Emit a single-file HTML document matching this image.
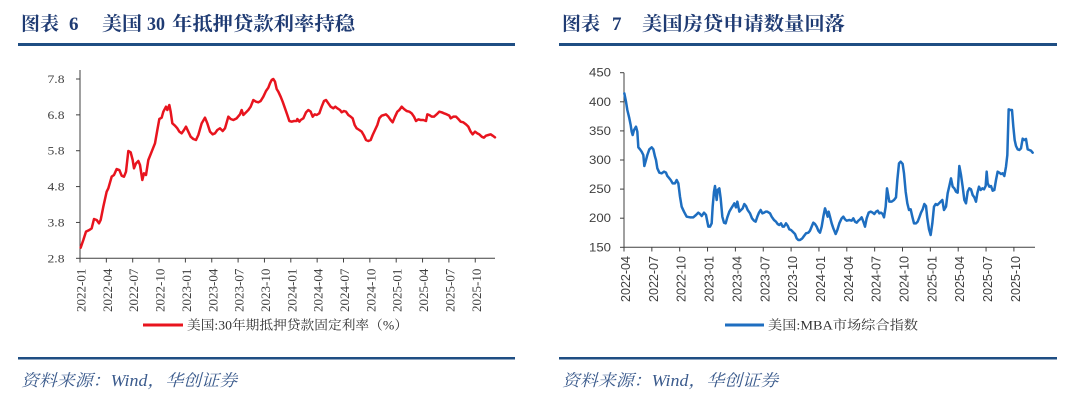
<!DOCTYPE html>
<html><head><meta charset="utf-8"><style>
html,body{margin:0;padding:0;background:#fff;}
svg{display:block;}
.t{font-family:"Liberation Serif","Noto Serif CJK SC",serif;font-weight:bold;fill:#1f3b73;font-size:19px;}
.src{font-family:"Liberation Serif","Noto Serif CJK SC",serif;font-style:italic;fill:#3a5a8c;font-size:16.5px;}
.ys{font-family:"Liberation Serif",serif;font-size:12px;fill:#404040;}
.xs{font-family:"Liberation Serif",serif;font-size:13px;fill:#404040;}
.ya{font-family:"Liberation Sans",sans-serif;font-size:12px;fill:#404040;}
.xa{font-family:"Liberation Sans",sans-serif;font-size:13px;fill:#404040;}
.lg{font-family:"Liberation Serif","Noto Serif CJK SC",serif;font-size:13px;fill:#333;}
</style></head><body>
<svg width="1080" height="404" viewBox="0 0 1080 404" xmlns="http://www.w3.org/2000/svg">
<!-- Titles -->
<text class="t" x="21" y="30" textLength="38" lengthAdjust="spacingAndGlyphs">图表</text>
<text class="t" x="69" y="30">6</text>
<text class="t" x="102" y="30" textLength="40" lengthAdjust="spacingAndGlyphs">美国</text>
<text class="t" x="147" y="30" textLength="18" lengthAdjust="spacingAndGlyphs">30</text>
<text class="t" x="172" y="30" textLength="183" lengthAdjust="spacingAndGlyphs">年抵押贷款利率持稳</text>

<text class="t" x="562" y="30" textLength="38" lengthAdjust="spacingAndGlyphs">图表</text>
<text class="t" x="612" y="30">7</text>
<text class="t" x="642" y="30" textLength="203" lengthAdjust="spacingAndGlyphs">美国房贷申请数量回落</text>

<!-- rules -->
<rect x="18" y="43" width="497" height="3" fill="#1f4e83"/>
<rect x="559" y="43" width="498" height="3" fill="#1f4e83"/>
<rect x="18" y="357" width="497" height="2.5" fill="#1f4e83"/>
<rect x="559" y="357" width="498" height="2.5" fill="#1f4e83"/>

<!-- sources -->
<text class="src" x="21" y="386" textLength="216" lengthAdjust="spacingAndGlyphs">资料来源：Wind，华创证券</text>
<text class="src" x="562" y="386" textLength="216" lengthAdjust="spacingAndGlyphs">资料来源：Wind，华创证券</text>

<!-- LEFT CHART axes -->
<g stroke="#404040" stroke-width="1" fill="none">
<line x1="80" y1="70" x2="80" y2="258.3"/>
<line x1="80" y1="258.3" x2="495" y2="258.3"/>
<line x1="76" y1="79" x2="80" y2="79"/>
<line x1="76" y1="114.86" x2="80" y2="114.86"/>
<line x1="76" y1="150.72" x2="80" y2="150.72"/>
<line x1="76" y1="186.58" x2="80" y2="186.58"/>
<line x1="76" y1="222.44" x2="80" y2="222.44"/>
<line x1="76" y1="258.3" x2="80" y2="258.3"/>
<line x1="80" y1="258.3" x2="80" y2="262.5"/>
<line x1="106.35" y1="258.3" x2="106.35" y2="262.5"/>
<line x1="132.7" y1="258.3" x2="132.7" y2="262.5"/>
<line x1="159.05" y1="258.3" x2="159.05" y2="262.5"/>
<line x1="185.4" y1="258.3" x2="185.4" y2="262.5"/>
<line x1="211.75" y1="258.3" x2="211.75" y2="262.5"/>
<line x1="238.1" y1="258.3" x2="238.1" y2="262.5"/>
<line x1="264.45" y1="258.3" x2="264.45" y2="262.5"/>
<line x1="290.8" y1="258.3" x2="290.8" y2="262.5"/>
<line x1="317.15" y1="258.3" x2="317.15" y2="262.5"/>
<line x1="343.5" y1="258.3" x2="343.5" y2="262.5"/>
<line x1="369.85" y1="258.3" x2="369.85" y2="262.5"/>
<line x1="396.2" y1="258.3" x2="396.2" y2="262.5"/>
<line x1="422.55" y1="258.3" x2="422.55" y2="262.5"/>
<line x1="448.9" y1="258.3" x2="448.9" y2="262.5"/>
<line x1="475.25" y1="258.3" x2="475.25" y2="262.5"/>
</g>
<g class="ys" text-anchor="end" dominant-baseline="central">
<text x="64.5" y="79" textLength="17" lengthAdjust="spacingAndGlyphs">7.8</text>
<text x="64.5" y="114.86" textLength="17" lengthAdjust="spacingAndGlyphs">6.8</text>
<text x="64.5" y="150.72" textLength="17" lengthAdjust="spacingAndGlyphs">5.8</text>
<text x="64.5" y="186.58" textLength="17" lengthAdjust="spacingAndGlyphs">4.8</text>
<text x="64.5" y="222.44" textLength="17" lengthAdjust="spacingAndGlyphs">3.8</text>
<text x="64.5" y="258.3" textLength="17" lengthAdjust="spacingAndGlyphs">2.8</text>
</g>
<g class="xs" dominant-baseline="central">
<text transform="translate(81,312) rotate(-90)">2022-01</text>
<text transform="translate(107.35,312) rotate(-90)">2022-04</text>
<text transform="translate(133.7,312) rotate(-90)">2022-07</text>
<text transform="translate(160.05,312) rotate(-90)">2022-10</text>
<text transform="translate(186.4,312) rotate(-90)">2023-01</text>
<text transform="translate(212.75,312) rotate(-90)">2023-04</text>
<text transform="translate(239.1,312) rotate(-90)">2023-07</text>
<text transform="translate(265.45,312) rotate(-90)">2023-10</text>
<text transform="translate(291.8,312) rotate(-90)">2024-01</text>
<text transform="translate(318.15,312) rotate(-90)">2024-04</text>
<text transform="translate(344.5,312) rotate(-90)">2024-07</text>
<text transform="translate(370.85,312) rotate(-90)">2024-10</text>
<text transform="translate(397.2,312) rotate(-90)">2025-01</text>
<text transform="translate(423.55,312) rotate(-90)">2025-04</text>
<text transform="translate(449.9,312) rotate(-90)">2025-07</text>
<text transform="translate(476.25,312) rotate(-90)">2025-10</text>
</g>
<!-- red series -->
<g transform="translate(60,65) scale(0.33333)">
<polyline fill="none" stroke="#e8141e" stroke-width="7.5" stroke-linejoin="round" stroke-linecap="round" points="62,548 70,525 78,500 88,495 95,490 102,462 110,465 117,475 122,465 130,425 140,380 145,370 155,335 162,330 170,312 178,315 185,332 192,335 198,320 205,258 212,262 218,285 222,310 228,295 235,288 240,300 247,345 252,325 258,330 265,285 275,260 285,235 292,195 298,162 305,158 310,140 318,125 322,135 328,120 332,140 337,175 345,182 352,190 358,200 365,205 372,195 378,185 385,200 392,215 400,222 408,225 415,210 425,175 435,158 442,175 450,200 458,208 465,205 472,195 480,190 488,198 495,190 505,155 512,162 520,165 530,160 540,148 545,135 550,150 558,142 565,135 572,125 580,105 588,110 595,112 602,108 610,95 618,78 625,68 630,55 635,45 640,42 645,50 650,72 655,80 662,95 668,110 675,130 682,150 688,168 695,170 702,168 710,168 712,162 718,170 722,165 730,160 738,142 745,135 752,140 758,155 764,148 770,150 778,145 785,125 792,108 798,105 805,115 812,125 820,130 826,125 832,130 840,135 845,142 852,138 858,140 865,150 872,155 878,160 884,180 890,190 898,195 905,200 912,212 918,225 925,228 932,225 938,210 945,195 952,180 958,160 965,152 972,150 978,148 985,155 992,165 998,172 1005,155 1012,140 1018,135 1025,125 1032,132 1040,138 1048,140 1055,145 1062,155 1068,168 1075,163 1082,165 1090,165 1098,168 1102,148 1108,150 1115,155 1122,155 1130,148 1138,140 1145,142 1152,145 1160,148 1168,152 1172,160 1180,155 1188,155 1195,162 1202,170 1210,172 1218,178 1225,185 1232,200 1238,208 1245,200 1252,205 1258,208 1265,215 1272,218 1278,212 1285,210 1292,208 1298,212 1305,217"/>
</g>
<!-- left legend -->
<line x1="143" y1="325" x2="183" y2="325" stroke="#e8141e" stroke-width="3"/>
<text class="lg" x="187" y="329.5" textLength="221" lengthAdjust="spacingAndGlyphs">美国:30年期抵押贷款固定利率（%）</text>

<!-- RIGHT CHART axes -->
<g stroke="#404040" stroke-width="1" fill="none">
<line x1="624" y1="72.7" x2="624" y2="247.3"/>
<line x1="624" y1="247.3" x2="1035" y2="247.3"/>
<line x1="620" y1="72.7" x2="624" y2="72.7"/>
<line x1="620" y1="101.8" x2="624" y2="101.8"/>
<line x1="620" y1="130.9" x2="624" y2="130.9"/>
<line x1="620" y1="160" x2="624" y2="160"/>
<line x1="620" y1="189.1" x2="624" y2="189.1"/>
<line x1="620" y1="218.2" x2="624" y2="218.2"/>
<line x1="620" y1="247.3" x2="624" y2="247.3"/>
<line x1="624" y1="247.3" x2="624" y2="251.5"/>
<line x1="651.85" y1="247.3" x2="651.85" y2="251.5"/>
<line x1="679.7" y1="247.3" x2="679.7" y2="251.5"/>
<line x1="707.55" y1="247.3" x2="707.55" y2="251.5"/>
<line x1="735.4" y1="247.3" x2="735.4" y2="251.5"/>
<line x1="763.25" y1="247.3" x2="763.25" y2="251.5"/>
<line x1="791.1" y1="247.3" x2="791.1" y2="251.5"/>
<line x1="818.95" y1="247.3" x2="818.95" y2="251.5"/>
<line x1="846.8" y1="247.3" x2="846.8" y2="251.5"/>
<line x1="874.65" y1="247.3" x2="874.65" y2="251.5"/>
<line x1="902.5" y1="247.3" x2="902.5" y2="251.5"/>
<line x1="930.35" y1="247.3" x2="930.35" y2="251.5"/>
<line x1="958.2" y1="247.3" x2="958.2" y2="251.5"/>
<line x1="986.05" y1="247.3" x2="986.05" y2="251.5"/>
<line x1="1013.9" y1="247.3" x2="1013.9" y2="251.5"/>
</g>
<g class="ya" text-anchor="end" dominant-baseline="central">
<text x="611" y="72.7" textLength="22" lengthAdjust="spacingAndGlyphs">450</text>
<text x="611" y="101.8" textLength="22" lengthAdjust="spacingAndGlyphs">400</text>
<text x="611" y="130.9" textLength="22" lengthAdjust="spacingAndGlyphs">350</text>
<text x="611" y="160" textLength="22" lengthAdjust="spacingAndGlyphs">300</text>
<text x="611" y="189.1" textLength="22" lengthAdjust="spacingAndGlyphs">250</text>
<text x="611" y="218.2" textLength="22" lengthAdjust="spacingAndGlyphs">200</text>
<text x="611" y="247.3" textLength="22" lengthAdjust="spacingAndGlyphs">150</text>
</g>
<g class="xa" dominant-baseline="central">
<text transform="translate(625.5,302) rotate(-90)" textLength="46" lengthAdjust="spacingAndGlyphs">2022-04</text>
<text transform="translate(653.35,302) rotate(-90)" textLength="46" lengthAdjust="spacingAndGlyphs">2022-07</text>
<text transform="translate(681.2,302) rotate(-90)" textLength="46" lengthAdjust="spacingAndGlyphs">2022-10</text>
<text transform="translate(709.05,302) rotate(-90)" textLength="46" lengthAdjust="spacingAndGlyphs">2023-01</text>
<text transform="translate(736.9,302) rotate(-90)" textLength="46" lengthAdjust="spacingAndGlyphs">2023-04</text>
<text transform="translate(764.75,302) rotate(-90)" textLength="46" lengthAdjust="spacingAndGlyphs">2023-07</text>
<text transform="translate(792.6,302) rotate(-90)" textLength="46" lengthAdjust="spacingAndGlyphs">2023-10</text>
<text transform="translate(820.45,302) rotate(-90)" textLength="46" lengthAdjust="spacingAndGlyphs">2024-01</text>
<text transform="translate(848.3,302) rotate(-90)" textLength="46" lengthAdjust="spacingAndGlyphs">2024-04</text>
<text transform="translate(876.15,302) rotate(-90)" textLength="46" lengthAdjust="spacingAndGlyphs">2024-07</text>
<text transform="translate(904,302) rotate(-90)" textLength="46" lengthAdjust="spacingAndGlyphs">2024-10</text>
<text transform="translate(931.85,302) rotate(-90)" textLength="46" lengthAdjust="spacingAndGlyphs">2025-01</text>
<text transform="translate(959.7,302) rotate(-90)" textLength="46" lengthAdjust="spacingAndGlyphs">2025-04</text>
<text transform="translate(987.55,302) rotate(-90)" textLength="46" lengthAdjust="spacingAndGlyphs">2025-07</text>
<text transform="translate(1015.4,302) rotate(-90)" textLength="46" lengthAdjust="spacingAndGlyphs">2025-10</text>
</g>
<!-- blue series -->
<g transform="translate(580,60) scale(0.33333)">
<polyline fill="none" stroke="#1e6ec0" stroke-width="7.5" stroke-linejoin="round" stroke-linecap="round" points="133,100 138,125 142,150 148,175 152,195 155,215 158,225 162,210 165,205 168,200 172,215 175,262 180,268 185,275 190,285 193,318 198,300 202,285 208,268 215,262 220,268 225,290 228,300 232,325 238,338 245,340 252,335 258,338 262,348 268,355 272,360 278,370 285,370 290,360 295,370 300,410 305,440 312,455 320,470 330,472 340,472 348,465 355,458 360,462 365,468 372,458 378,465 385,500 390,500 395,490 398,440 402,395 405,378 410,420 413,390 418,385 422,415 427,470 432,488 437,490 442,472 448,455 455,443 460,435 463,430 468,442 472,425 478,455 483,450 488,445 493,432 498,438 503,450 510,460 516,475 522,482 527,485 532,470 537,458 542,450 547,460 552,458 557,455 562,455 570,460 575,470 582,480 588,485 593,492 598,495 603,490 608,500 612,500 618,490 623,497 628,508 633,510 638,515 645,522 650,535 655,540 660,540 667,535 672,528 678,520 685,518 690,512 695,500 700,488 705,492 710,500 715,512 720,518 725,500 730,470 735,445 740,460 743,470 746,455 750,470 755,490 760,505 767,522 772,510 778,490 785,475 790,470 795,478 800,482 808,480 815,482 820,475 825,485 830,488 835,482 840,478 845,472 850,485 855,500 860,475 866,458 872,455 878,458 883,462 888,455 893,452 898,460 903,458 908,462 912,472 917,440 921,385 925,408 928,425 935,425 942,420 948,412 952,360 957,310 962,305 968,312 972,340 977,395 982,430 987,450 992,448 997,470 1002,490 1008,490 1013,485 1018,472 1023,458 1028,448 1033,432 1038,438 1042,475 1047,508 1052,525 1057,490 1062,440 1067,432 1072,435 1077,430 1082,425 1087,420 1092,450 1098,440 1103,400 1108,378 1113,355 1118,380 1123,385 1128,395 1133,398 1138,318 1143,345 1148,380 1153,420 1158,430 1163,395 1168,385 1173,388 1178,405 1183,412 1188,425 1192,400 1197,380 1202,390 1207,385 1212,388 1217,378 1220,335 1223,370 1228,380 1233,378 1238,392 1243,390 1248,360 1253,335 1258,338 1263,342 1268,340 1273,348 1278,320 1282,285 1286,148 1291,150 1296,150 1300,200 1304,240 1308,258 1313,268 1318,270 1323,265 1328,236 1333,240 1338,237 1343,268 1348,270 1353,272 1358,278"/>
</g>
<!-- right legend -->
<line x1="725" y1="325" x2="764" y2="325" stroke="#1e6ec0" stroke-width="3"/>
<text class="lg" x="768" y="329.5" textLength="150" lengthAdjust="spacingAndGlyphs">美国:MBA市场综合指数</text>
</svg>
</body></html>
